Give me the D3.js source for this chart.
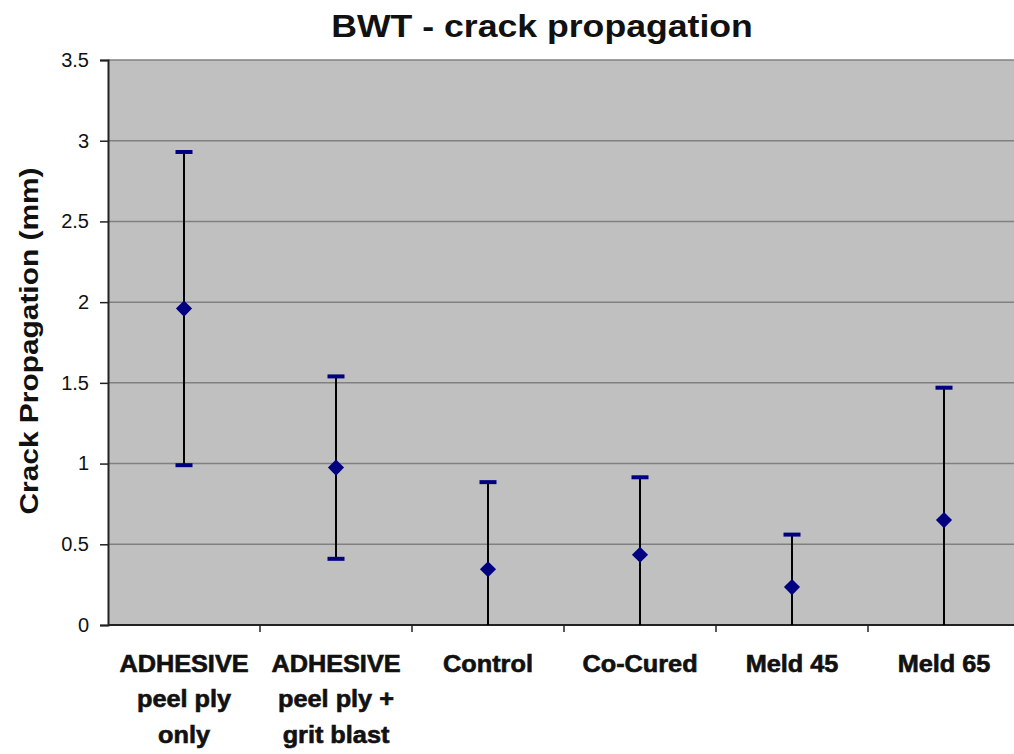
<!DOCTYPE html>
<html>
<head>
<meta charset="utf-8">
<script src="https://cdn.jsdelivr.net/npm/d3@7"></script>
<style>
html,body{margin:0;padding:0;background:#fff;}
svg{display:block;}
text{font-family:"Liberation Sans",Arial,sans-serif;}
</style>
</head>
<body>
<svg id="chart" width="1014" height="754"></svg>
<script>
const categories = [
  ["ADHESIVE","peel ply","only"],
  ["ADHESIVE","peel ply +","grit blast"],
  ["Control"],
  ["Co-Cured"],
  ["Meld 45"],
  ["Meld 65"]
];
const means = [1.96, 0.975, 0.345, 0.435, 0.235, 0.65];
const errors = [0.97, 0.565, 0.54, 0.48, 0.325, 0.82];
const yTicks = [0, 0.5, 1, 1.5, 2, 2.5, 3, 3.5];
const title = "BWT - crack propagation";
const yTitle = "Crack Propagation (mm)";

(function(){
const svg = d3.select("#chart");
const pL = 108, pR = 1020, pT = 60, pB = 625;

const x = d3.scaleBand().domain(d3.range(categories.length)).range([pL, pR]);
const y = d3.scaleLinear().domain([0, 3.5]).range([pB, pT]);

svg.append("defs").append("clipPath").attr("id","plotclip")
  .append("rect").attr("x",pL).attr("y",pT).attr("width",pR-pL).attr("height",pB-pT);

svg.append("rect").attr("x",pL).attr("y",pT).attr("width",pR-pL).attr("height",pB-pT)
  .attr("fill","#c0c0c0");

svg.append("g").selectAll("line").data(yTicks.filter(d=>d>0)).join("line")
  .attr("x1",pL).attr("x2",pR)
  .attr("y1",d=>y(d)).attr("y2",d=>y(d))
  .attr("stroke","#808080").attr("stroke-width",1.5);

const yAxis = svg.append("g").attr("transform",`translate(${pL},0)`)
  .call(d3.axisLeft(y).tickValues(yTicks).tickFormat(d=>String(d)).tickSize(8).tickPadding(11));
yAxis.select(".domain").attr("stroke","#222").attr("stroke-width",2);
yAxis.selectAll(".tick line").attr("stroke","#222").attr("stroke-width",1.5);
yAxis.selectAll(".tick text").attr("font-size",20).attr("fill","#111")
  .attr("font-family","'Liberation Sans',Arial,sans-serif");

const bounds = d3.range(categories.length+1).map(i => pL + i*x.bandwidth());
const xg = svg.append("g");
xg.append("line").attr("x1",pL).attr("x2",pR).attr("y1",pB).attr("y2",pB)
  .attr("stroke","#222").attr("stroke-width",2);
xg.selectAll("line.t").data(bounds.slice(1)).join("line").attr("class","t")
  .attr("x1",d=>d).attr("x2",d=>d).attr("y1",pB).attr("y2",pB+7)
  .attr("stroke","#222").attr("stroke-width",1.5);

categories.forEach((lines,i)=>{
  const cx = x(i) + x.bandwidth()/2;
  const g = svg.append("g").attr("transform",`translate(${cx},0) scale(1.1,1)`);
  g.selectAll("text").data(lines).join("text")
    .attr("x",0).attr("y",(d,j)=>672 + j*35.5)
    .attr("text-anchor","middle").attr("font-size",23).attr("font-weight","bold").attr("fill","#111")
    .attr("stroke","#111").attr("stroke-width",0.6)
    .text(d=>d);
});

const eb = svg.append("g").attr("clip-path","url(#plotclip)");
means.forEach((m,i)=>{
  const cx = x(i) + x.bandwidth()/2;
  const hi = m + errors[i], lo = m - errors[i];
  eb.append("line").attr("x1",cx).attr("x2",cx).attr("y1",y(hi)).attr("y2",y(lo))
    .attr("stroke","#000").attr("stroke-width",2);
  [hi,lo].forEach(v=>{
    if (v>0) eb.append("line").attr("x1",cx-8.5).attr("x2",cx+8.5).attr("y1",y(v)).attr("y2",y(v))
      .attr("stroke","#000080").attr("stroke-width",4);
  });
});

svg.append("g").selectAll("path").data(means).join("path")
  .attr("transform",(d,i)=>`translate(${x(i)+x.bandwidth()/2},${y(d)}) rotate(45)`)
  .attr("d",d3.symbol().type(d3.symbolSquare).size(130))
  .attr("fill","#000080");

svg.append("text").attr("transform","translate(542,37) scale(1.15,1)")
  .attr("text-anchor","middle").attr("font-size",31).attr("font-weight","bold").attr("fill","#111")
  .text(title);

svg.append("text").attr("transform","translate(38,341) rotate(-90) scale(1.15,1)")
  .attr("text-anchor","middle").attr("font-size",26).attr("font-weight","bold").attr("fill","#111")
  .text(yTitle);
})();
</script>
</body>
</html>
